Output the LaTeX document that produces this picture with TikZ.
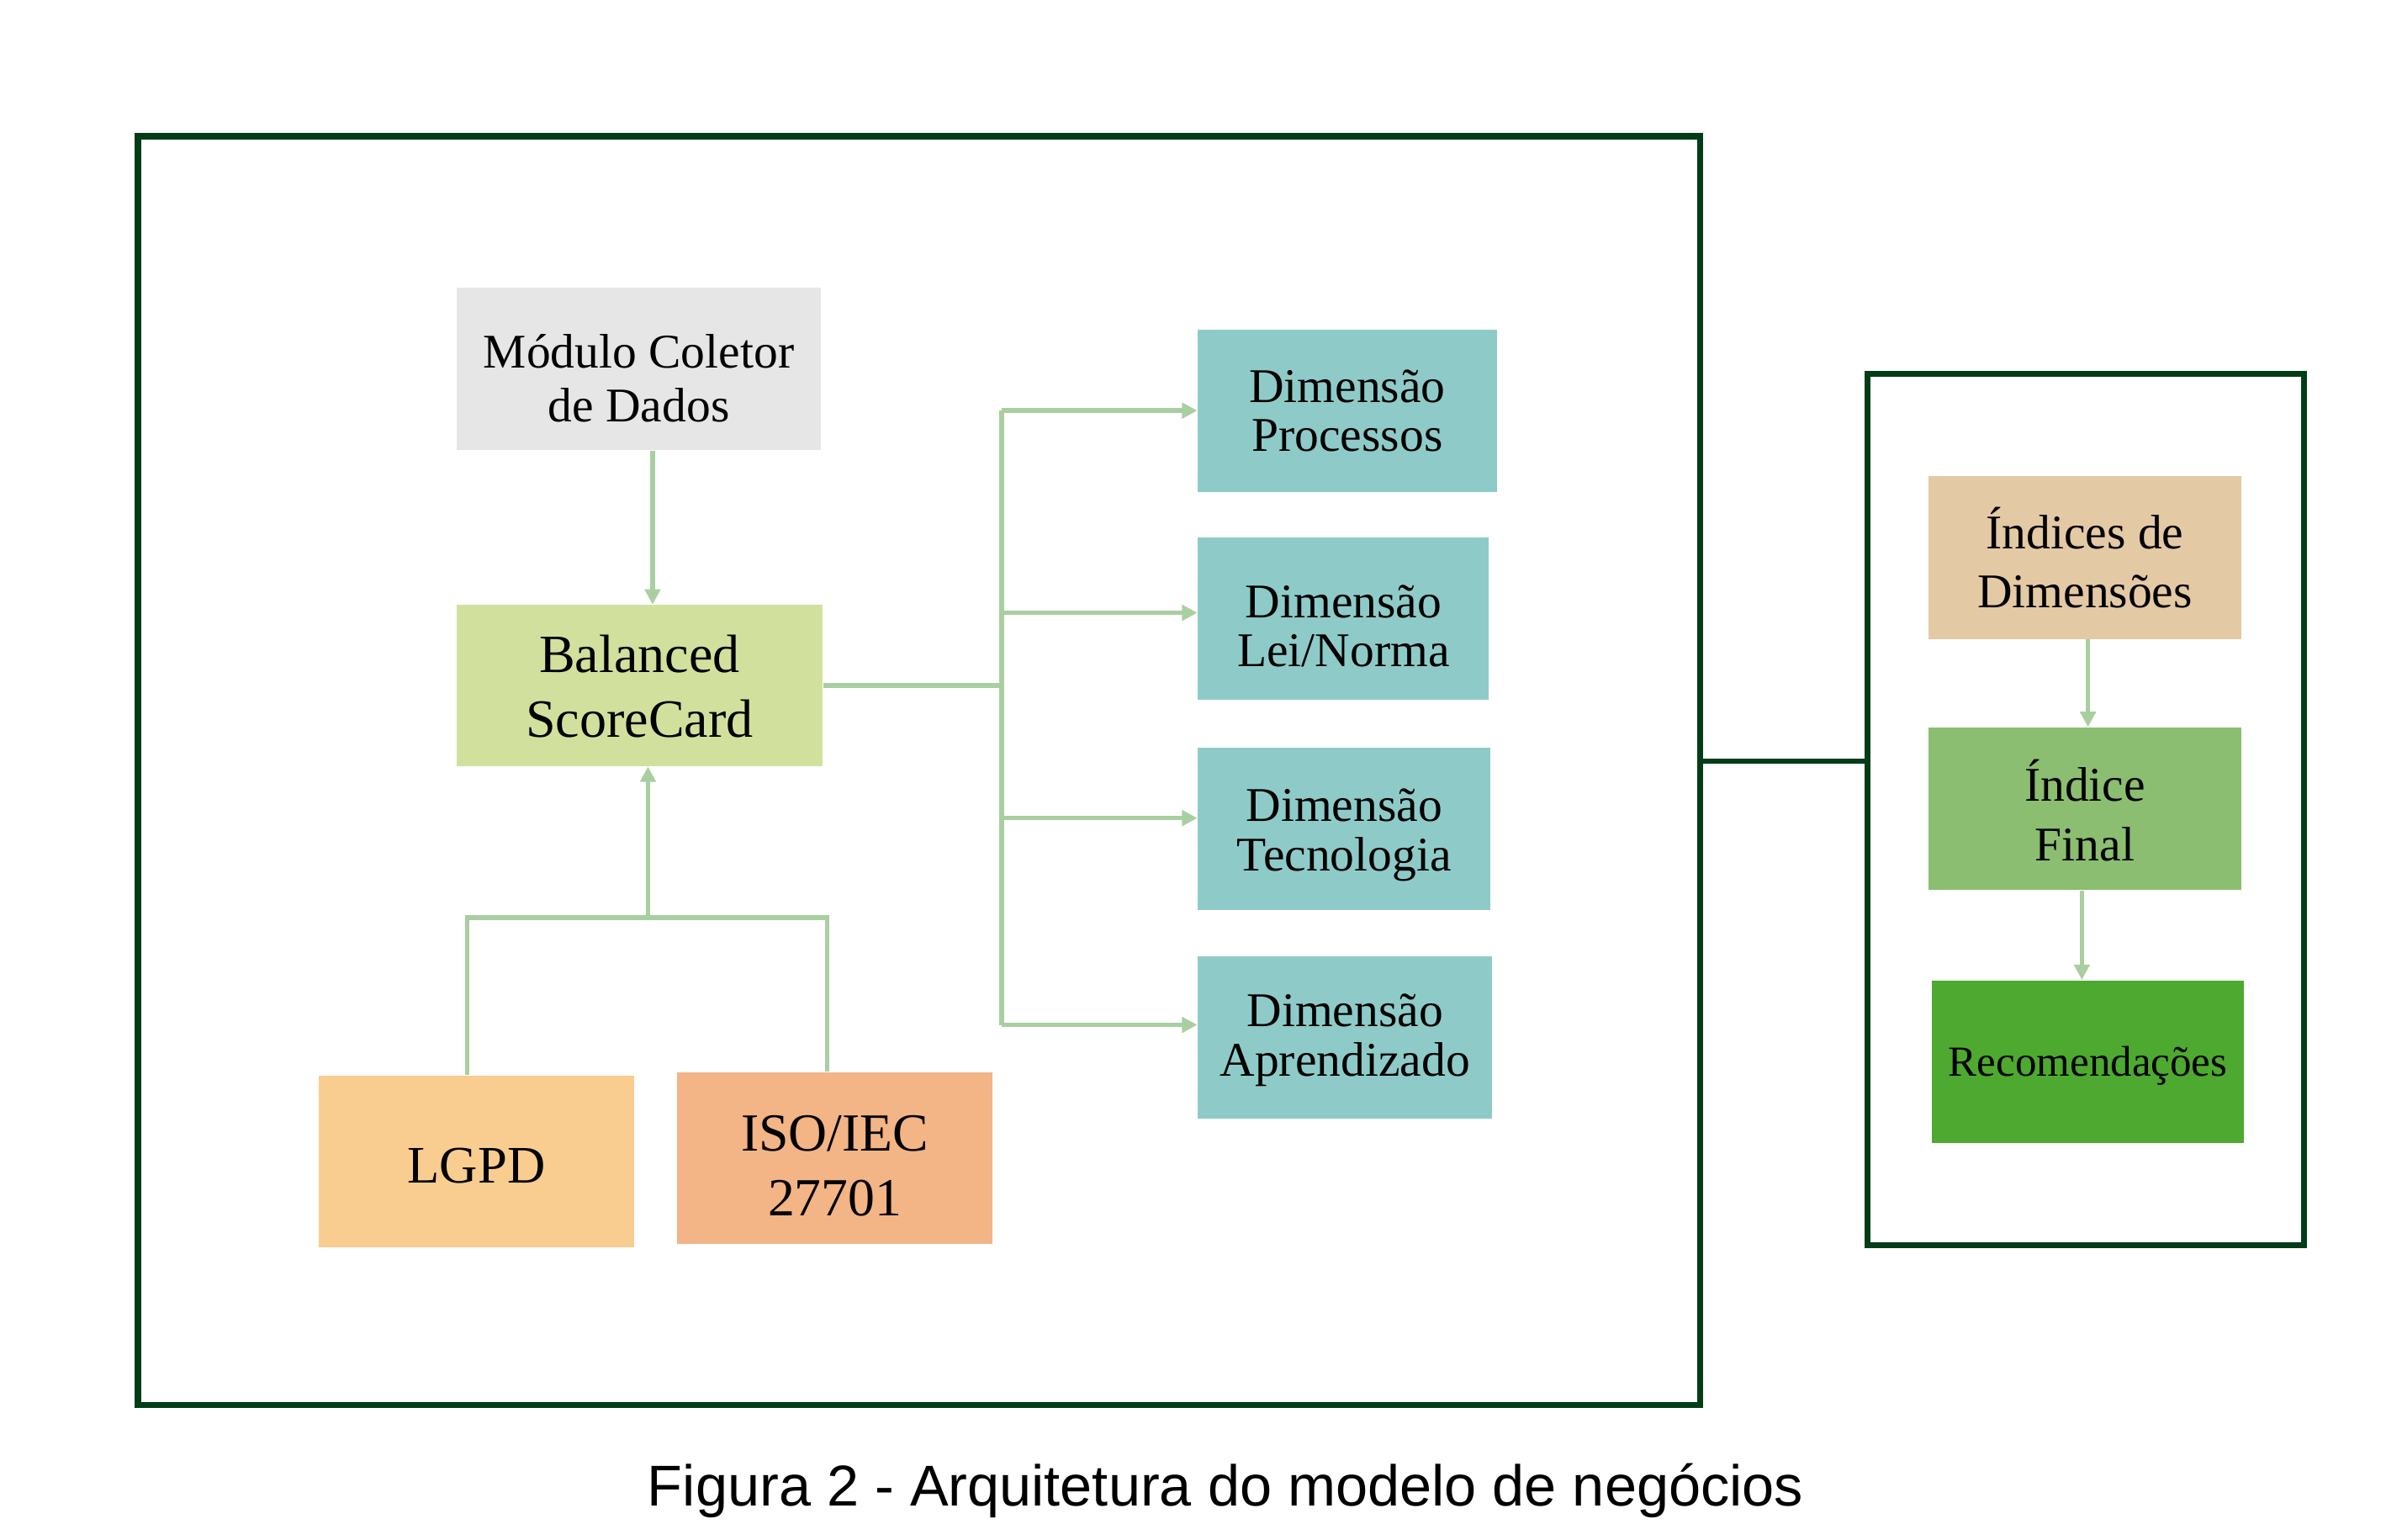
\documentclass[tikz,border=0pt]{standalone}
\usepackage{fontspec}
\setmainfont{Liberation Serif}
\newfontfamily\capfont{Liberation Sans}
\usetikzlibrary{arrows.meta,positioning}
\definecolor{cgray}{HTML}{E6E6E6}
\definecolor{cbsc}{HTML}{D1E19D}
\definecolor{clgpd}{HTML}{F8CD8F}
\definecolor{ciso}{HTML}{F3B486}
\definecolor{cteal}{HTML}{8ECBC8}
\definecolor{cidx}{HTML}{E4C9A5}
\definecolor{cfin}{HTML}{8BBE70}
\definecolor{crec}{HTML}{4DA92F}
\definecolor{cdark}{HTML}{033D18}
\definecolor{cconn}{HTML}{A9CFA0}
\begin{document}
\begin{tikzpicture}[x=0.5pt,y=-0.5pt,
  box/.style={rectangle, inner sep=0pt, align=center, text=black},
  lab/.style={inner sep=0pt, align=center, text=black},
  frame/.style={rectangle, draw=cdark, line width=2pt, inner sep=0pt},
  conn/.style={draw=cconn, line width=1.5pt},
  conarr/.style={conn, -{Triangle[length=5pt,width=5pt]}},
  darkline/.style={draw=cdark, line width=1.6pt}]
\useasboundingbox (0,0) rectangle (1568,1005);
% frames
\node[frame, minimum width=510pt, minimum height=414pt] (outer) at (600,503) {};
\node[frame, minimum width=142.5pt, minimum height=284.5pt] (right) at (1361.5,528.5) {};
\coordinate (cy) at (0,497);
\draw[darkline] (outer.east |- cy) -- (right.west |- cy);
% left nodes
\node[box, fill=cgray, minimum width=119pt, minimum height=53pt,
  label={[lab, yshift=-3pt, font=\fontsize{15.8}{17.5}\selectfont]center:{Módulo Coletor\\de Dados}}]
  (mod) at (417,241) {};
\node[box, fill=cbsc, minimum width=119.5pt, minimum height=52.5pt,
  label={[lab, yshift=-0.3pt, font=\fontsize{17.6}{21}\selectfont]center:{Balanced\\ScoreCard}}]
  (bsc) at (417.5,447.5) {};
\node[box, fill=clgpd, minimum width=103pt, minimum height=56pt,
  label={[lab, yshift=-1.5pt, font=\fontsize{17.2}{21}\selectfont]center:{LGPD}}]
  (lgpd) at (311,758) {};
\node[box, fill=ciso, minimum width=103pt, minimum height=56pt,
  label={[lab, yshift=-2.5pt, font=\fontsize{17.5}{21}\selectfont]center:{ISO/IEC\\27701}}]
  (iso) at (545,756) {};
% dimension nodes
\node[box, fill=cteal, minimum width=97.5pt, minimum height=53pt,
  label={[lab, font=\fontsize{15.8}{16}\selectfont]center:{Dimensão\\Processos}}]
  (dp) at (879.5,268) {};
\node[box, fill=cteal, minimum width=95pt, minimum height=53pt,
  label={[lab, yshift=-2.25pt, font=\fontsize{15.8}{16}\selectfont]center:{Dimensão\\Lei/Norma}}]
  (dl) at (877,404) {};
\node[box, fill=cteal, minimum width=95.5pt, minimum height=53pt,
  label={[lab, yshift=-2pt, font=\fontsize{15.8}{16}\selectfont]center:{Dimensão\\Tecnologia}}]
  (dt) at (877.5,541) {};
\node[box, fill=cteal, minimum width=96pt, minimum height=53pt,
  label={[lab, yshift=-1pt, font=\fontsize{15.8}{16}\selectfont]center:{Dimensão\\Aprendizado}}]
  (da) at (878,677) {};
% right nodes
\node[box, fill=cidx, minimum width=102pt, minimum height=53pt,
  label={[lab, font=\fontsize{15.8}{19}\selectfont]center:{Índices de\\Dimensões}}]
  (idx) at (1361,364) {};
\node[box, fill=cfin, minimum width=102pt, minimum height=53pt,
  label={[lab, yshift=-0.5pt, font=\fontsize{15.8}{19.5}\selectfont]center:{Índice\\Final}}]
  (fin) at (1361,528) {};
\node[box, fill=crec, minimum width=102pt, minimum height=53pt,
  label={[lab, yshift=-1.5pt, font=\fontsize{14}{16}\selectfont]center:{Recomendações}}]
  (rec) at (1363,693) {};
% caption
\node[anchor=base, inner sep=0pt, font=\capfont\fontsize{18.8}{22}\selectfont] (cap) at (800,983)
  {Figura 2 - Arquitetura do modelo de negócios};
% connectors
\coordinate (c1) at (426,0);
\draw[conarr] (mod.south -| c1) -- (bsc.north -| c1);
\coordinate (trunk) at (654,0);
\coordinate (tp) at (dp.west);
\coordinate (tl) at ([yshift=2pt]dl.west);
\coordinate (tt) at ([yshift=3.5pt]dt.west);
\coordinate (ta) at ([yshift=4pt]da.west);
\draw[conn] (bsc.east) -- (bsc.east -| trunk);
\draw[conn] (trunk |- tp) -- (trunk |- ta);
\draw[conarr] (trunk |- tp) -- (tp);
\draw[conarr] (trunk |- tl) -- (tl);
\draw[conarr] (trunk |- tt) -- (tt);
\draw[conarr] (trunk |- ta) -- (ta);
\coordinate (j) at (423,599);
\draw[conn] ([xshift=-3pt]lgpd.north) |- (j) -| ([xshift=-2.5pt]iso.north);
\draw[conarr] (j) -- (j |- bsc.south);
\coordinate (c3) at (1363,0);
\coordinate (c2) at (1359,0);
\draw[conarr] (idx.south -| c3) -- (fin.north -| c3);
\draw[conarr] (fin.south -| c2) -- (rec.north -| c2);
\end{tikzpicture}
\end{document}
